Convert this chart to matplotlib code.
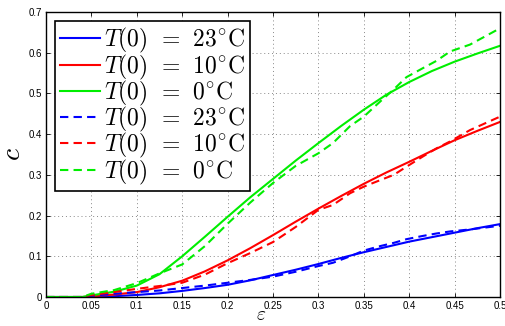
import matplotlib
matplotlib.use("Agg")
import matplotlib.pyplot as plt
import numpy as np

plt.rcParams['mathtext.fontset'] = 'cm'
plt.rcParams['font.family'] = ['Liberation Sans', 'DejaVu Sans']

# Model (solid) curves
eps_model = [0.0, 0.04, 0.05, 0.075, 0.1, 0.125, 0.15, 0.175, 0.2, 0.225, 0.25, 0.275, 0.3, 0.325,
             0.35, 0.375, 0.4, 0.425, 0.45, 0.475, 0.5]
c23_model = [0.0, 0.0, 0.0, 0.002, 0.005, 0.009, 0.015, 0.022, 0.03, 0.041, 0.054, 0.067, 0.081, 0.096,
             0.110, 0.123, 0.136, 0.147, 0.158, 0.169, 0.179]
c10_model = [0.0, 0.0, 0.002, 0.006, 0.012, 0.024, 0.04, 0.063, 0.09, 0.12, 0.152, 0.185, 0.217, 0.248,
             0.278, 0.306, 0.332, 0.359, 0.385, 0.408, 0.43]
c0_model = [0.0, 0.0, 0.004, 0.013, 0.028, 0.056, 0.1, 0.148, 0.197, 0.245, 0.29, 0.335, 0.378, 0.42,
            0.46, 0.497, 0.528, 0.555, 0.578, 0.598, 0.617]

# Measured (dashed) curves
eps_exp = [0.0, 0.04, 0.05, 0.075, 0.1, 0.125, 0.15, 0.175, 0.2, 0.225, 0.25, 0.275, 0.3, 0.316, 0.335,
           0.35, 0.368, 0.383, 0.397, 0.415, 0.43, 0.445, 0.467, 0.5]
c23_exp = [0.0, 0.0, 0.003, 0.008, 0.012, 0.016, 0.022, 0.028, 0.035, 0.042, 0.05, 0.062, 0.076, 0.084,
           0.1, 0.114, 0.125, 0.133, 0.142, 0.15, 0.156, 0.161, 0.166, 0.175]
c10_exp = [0.0, 0.0, 0.005, 0.012, 0.02, 0.027, 0.035, 0.055, 0.083, 0.108, 0.135, 0.172, 0.214, 0.226,
           0.255, 0.271, 0.287, 0.30, 0.32, 0.345, 0.365, 0.382, 0.41, 0.443]
c0_exp = [0.0, 0.0, 0.008, 0.017, 0.034, 0.058, 0.08, 0.125, 0.18, 0.232, 0.28, 0.322, 0.353, 0.378,
          0.42, 0.443, 0.48, 0.51, 0.54, 0.562, 0.58, 0.603, 0.62, 0.66]

labels = [r'$T(0)\;\,=\;\,23^{\circ}\mathrm{C}$', r'$T(0)\;\,=\;\,10^{\circ}\mathrm{C}$',
          r'$T(0)\;\,=\;\,0^{\circ}\mathrm{C}$']
colors = ['#0000ff', '#ff0000', '#00ee00']

xticks = [0, 0.05, 0.1, 0.15, 0.2, 0.25, 0.3, 0.35, 0.4, 0.45, 0.5]
xticklabels = ['0', '0.05', '0.1', '0.15', '0.2', '0.25', '0.3', '0.35', '0.4', '0.45', '0.5']
yticks = [0, 0.1, 0.2, 0.3, 0.4, 0.5, 0.6, 0.7]
yticklabels = ['0', '0.1', '0.2', '0.3', '0.4', '0.5', '0.6', '0.7']

fig = plt.figure(figsize=(5.06, 3.26), dpi=100)
ax = fig.add_axes([46/506, 29/326, 454/506, 285/326])

for ys, col, lab in zip([c23_model, c10_model, c0_model], colors, labels):
    ax.plot(eps_model, ys, color=col, lw=1.5, label=lab)
for ys, col, lab in zip([c23_exp, c10_exp, c0_exp], colors, labels):
    ax.plot(eps_exp, ys, color=col, lw=1.5, ls=(0, (4, 2.5)), label=lab)

ax.set_xlim(0, 0.5)
ax.set_ylim(0, 0.7)
ax.set_xticks(xticks)
ax.set_xticklabels(xticklabels)
ax.set_yticks(yticks)
ax.set_yticklabels(yticklabels)
ax.tick_params(direction='in', top=True, right=True, labelsize=7, length=3, width=0.6, pad=3)
ax.grid(True, color='#888888', ls=(0, (1, 3)), lw=0.7)
for s in ax.spines.values():
    s.set_linewidth(1.0)

ax.set_xlabel(r'$\varepsilon$', fontsize=14, va='center')
ax.xaxis.set_label_coords(0.474, -0.066)
ax.set_ylabel(r'$c$', fontsize=20, labelpad=2)

leg = ax.legend(loc='upper left', fontsize=17, labelspacing=-0.12, handlelength=1.7,
                handletextpad=0.15, borderpad=0.2, borderaxespad=0.4, fancybox=False,
                framealpha=1, edgecolor='black')
leg.get_frame().set_linewidth(1.2)

fig.savefig('out.png', dpi=100)
